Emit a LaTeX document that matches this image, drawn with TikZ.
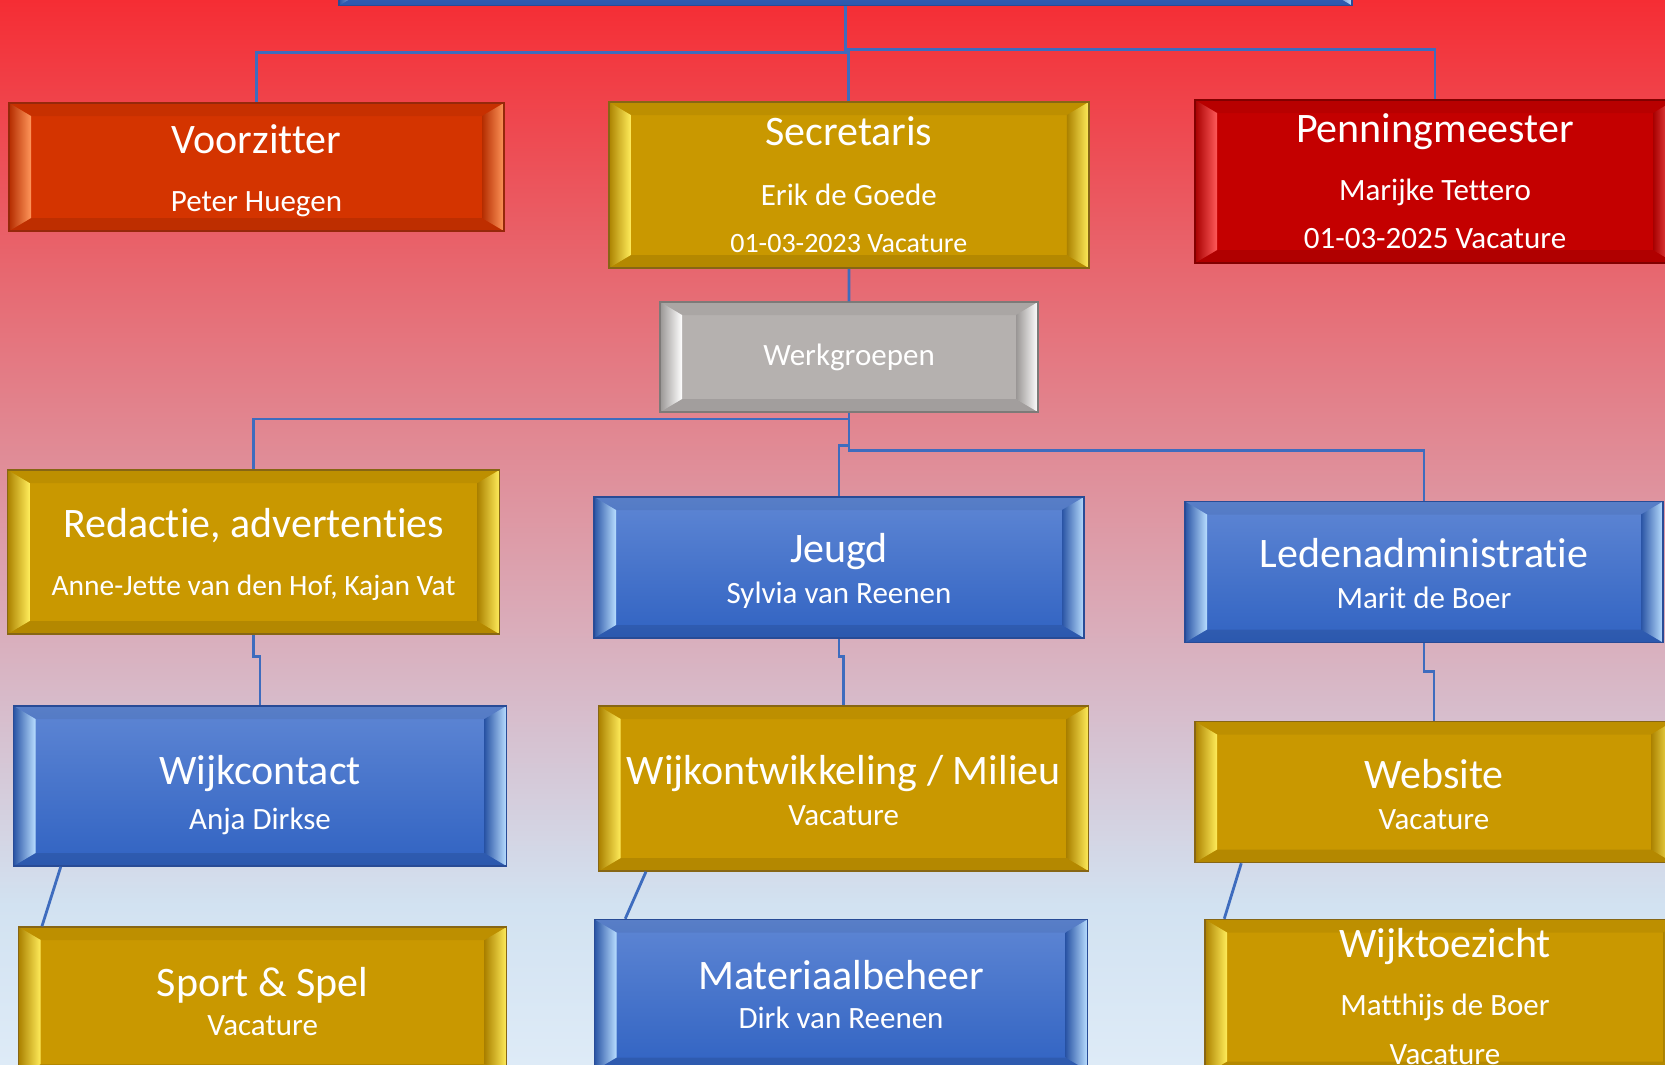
\documentclass[tikz,border=0pt]{standalone}
\usepackage{fontspec}
\setmainfont{Carlito}[Ligatures=NoCommon]

\definecolor{bgA}{RGB}{222,235,247}
\definecolor{bgB}{RGB}{210,226,241}
\definecolor{bgC}{RGB}{215,187,202}
\definecolor{bgD}{RGB}{226,130,140}
\definecolor{bgE}{RGB}{232,100,108}
\definecolor{bgF}{RGB}{245,45,52}
% the path is mapped on 25bp--75bp of the shading
\pgfdeclareverticalshading{achtergrond}{100bp}{color(0bp)=(bgA); color(25bp)=(bgA); color(32.5bp)=(bgB);
  color(42bp)=(bgC); color(56bp)=(bgD); color(63bp)=(bgE); color(75bp)=(bgF); color(100bp)=(bgF)}

\definecolor{goudtop}{RGB}{201,152,0}     \definecolor{goudbot}{RGB}{201,152,0}
\definecolor{goudedge}{RGB}{135,102,20}   \definecolor{goudhi}{RGB}{255,236,90}
\definecolor{blauwtop}{RGB}{94,134,212}   \definecolor{blauwbot}{RGB}{49,99,194}
\definecolor{blauwedge}{RGB}{40,75,150}   \definecolor{blauwhi}{RGB}{185,222,255}
\definecolor{roodtop}{RGB}{196,0,0}       \definecolor{roodbot}{RGB}{196,0,0}
\definecolor{roodedge}{RGB}{130,0,0}      \definecolor{roodhi}{RGB}{255,90,90}
\definecolor{oranjetop}{RGB}{212,52,0}    \definecolor{oranjebot}{RGB}{212,52,0}
\definecolor{oranjeedge}{RGB}{150,40,10}  \definecolor{oranjehi}{RGB}{255,150,90}
\definecolor{grijstop}{RGB}{181,177,175}  \definecolor{grijsbot}{RGB}{181,177,175}
\definecolor{grijsedge}{RGB}{125,122,120} \definecolor{grijshi}{RGB}{255,255,255}
\definecolor{linkblauw}{RGB}{62,108,190}

\newcommand\boxfont[2]{{\fontsize{#1}{41}\selectfont #2}}

\tikzset{
  orgbox/.style={draw=#1edge, line width=1.5pt, top color=#1top, bottom color=#1bot, text=white,
    align=center, inner sep=0pt, font=\fontsize{31}{41}\selectfont,
    path picture={
      \path (path picture bounding box.north west) coordinate (pnw)
            (path picture bounding box.north east) coordinate (pne)
            (path picture bounding box.south west) coordinate (psw)
            (path picture bounding box.south east) coordinate (pse);
      \fill[black, opacity=.06] (pnw) -- (pne) -- ++(-22pt,-13pt) -- ([shift={(22pt,-13pt)}]pnw) -- cycle;
      \fill[black, opacity=.10] (psw) -- (pse) -- ++(-22pt,13pt) -- ([shift={(22pt,13pt)}]psw) -- cycle;
      \shade[left color=#1bot!85!black, right color=#1hi] (pnw) -- (psw) -- ++(22pt,13pt) -- ([shift={(22pt,-13pt)}]pnw) -- cycle;
      \shade[left color=#1bot!85!black, right color=#1hi] (pne) -- (pse) -- ++(-22pt,13pt) -- ([shift={(-22pt,-13pt)}]pne) -- cycle;
    }},
  link/.style={draw=linkblauw, line width=2.8pt},
}

\begin{document}
\begin{tikzpicture}[x=1pt, y=-1pt]
\useasboundingbox (0,0) rectangle (1665,1065);
\clip (0,0) rectangle (1665,1065);
\shade[shading=achtergrond] (0,0) rectangle (1665,1065);

\node[orgbox=blauw, minimum width=1013pt, minimum height=65pt] (bestuur) at (845.5,-27) {};
\node[orgbox=oranje, minimum width=495pt, minimum height=128pt] (voorzitter) at (256.5,167)
  {\rule{0pt}{36pt}\boxfont{42}{Voorzitter}\\[17pt]Peter Huegen};
\node[orgbox=goud, minimum width=480pt, minimum height=166pt] (secretaris) at (848.8,185)
  {\boxfont{42}{Secretaris}\\[19pt]Erik de Goede\\[6pt]\boxfont{28}{01-03-2023 Vacature}};
\node[orgbox=rood, minimum width=480pt, minimum height=163pt] (penningmeester) at (1435,181.5)
  {\boxfont{42}{Penningmeester}\\[17pt]Marijke Tettero\\[7pt]01-03-2025 Vacature};
\node[orgbox=grijs, minimum width=378pt, minimum height=110pt] (werkgroepen) at (849,357) {Werkgroepen};
\node[orgbox=goud, minimum width=492pt, minimum height=164pt] (redactie) at (253.5,552)
  {\rule{0pt}{34pt}\boxfont{42}{Redactie, advertenties}\\[17pt]\boxfont{29.5}{Anne-Jette van den Hof, Kajan Vat}};
\node[orgbox=blauw, minimum width=490pt, minimum height=141pt] (jeugd) at (839,567.5)
  {\rule{0pt}{36pt}\boxfont{42}{Jeugd}\\Sylvia van Reenen};
\node[orgbox=blauw, minimum width=478pt, minimum height=141pt] (ledenadmin) at (1424,572)
  {\rule{0pt}{33pt}\boxfont{42}{Ledenadministratie}\\Marit de Boer};
\node[orgbox=blauw, minimum width=493pt, minimum height=160pt] (wijkcontact) at (260,786)
  {\rule{0pt}{48pt}\boxfont{42}{Wijkcontact}\\[4pt]Anja Dirkse};
\node[orgbox=goud, minimum width=490pt, minimum height=165pt] (wijkontwikkeling) at (843.7,788.5)
  {\rule{0pt}{33pt}\boxfont{42}{Wijkontwikkeling / Milieu}\\Vacature};
\node[orgbox=goud, minimum width=478pt, minimum height=141pt] (website) at (1434,792)
  {\rule{0pt}{34pt}\boxfont{42}{Website}\\Vacature};
\node[orgbox=goud, minimum width=488pt, minimum height=150pt] (sport) at (262.7,1002)
  {\boxfont{42}{Sport \& Spel}\\[-2pt]Vacature};
\node[orgbox=blauw, minimum width=493pt, minimum height=151pt] (materiaal) at (841,995)
  {\boxfont{42}{Materiaalbeheer}\\[-2pt]Dirk van Reenen};
\node[orgbox=goud, minimum width=480pt, minimum height=155pt] (wijktoezicht) at (1445,997)
  {\boxfont{42}{Wijktoezicht}\\[17pt]Matthijs de Boer\\[8pt]Vacature};

\draw[link] (bestuur.south) -- ++(0,46) -| (voorzitter.north);
\draw[link] (bestuur.south) -- ++(0,46) -| (secretaris.north);
\draw[link] (bestuur.south) -- ++(0,43.6) -| (penningmeester.north);
\draw[link] (secretaris) -- (werkgroepen);
\draw[link] (werkgroepen.south) -- ++(0,6.3) -| (redactie.north);
\draw[link] (werkgroepen.south) -- ++(0,33) -| (jeugd.north);
\draw[link] (werkgroepen.south) -- ++(0,38) -| (ledenadmin.north);
\draw[link] (redactie.south) -- ++(0,22) -| (wijkcontact.north);
\draw[link] (jeugd.south) -- ++(0,17.5) -| (wijkontwikkeling.north);
\draw[link] (ledenadmin.south) -- ++(0,28) -| (website.north);
\draw[link] ([xshift=48pt]wijkcontact.south west) -- ([xshift=24pt]sport.north west);
\draw[link] ([xshift=48pt]wijkontwikkeling.south west) -- ([xshift=31.5pt]materiaal.north west);
\draw[link] ([xshift=47pt]website.south west) -- ([xshift=20pt]wijktoezicht.north west);
\end{tikzpicture}
\end{document}
